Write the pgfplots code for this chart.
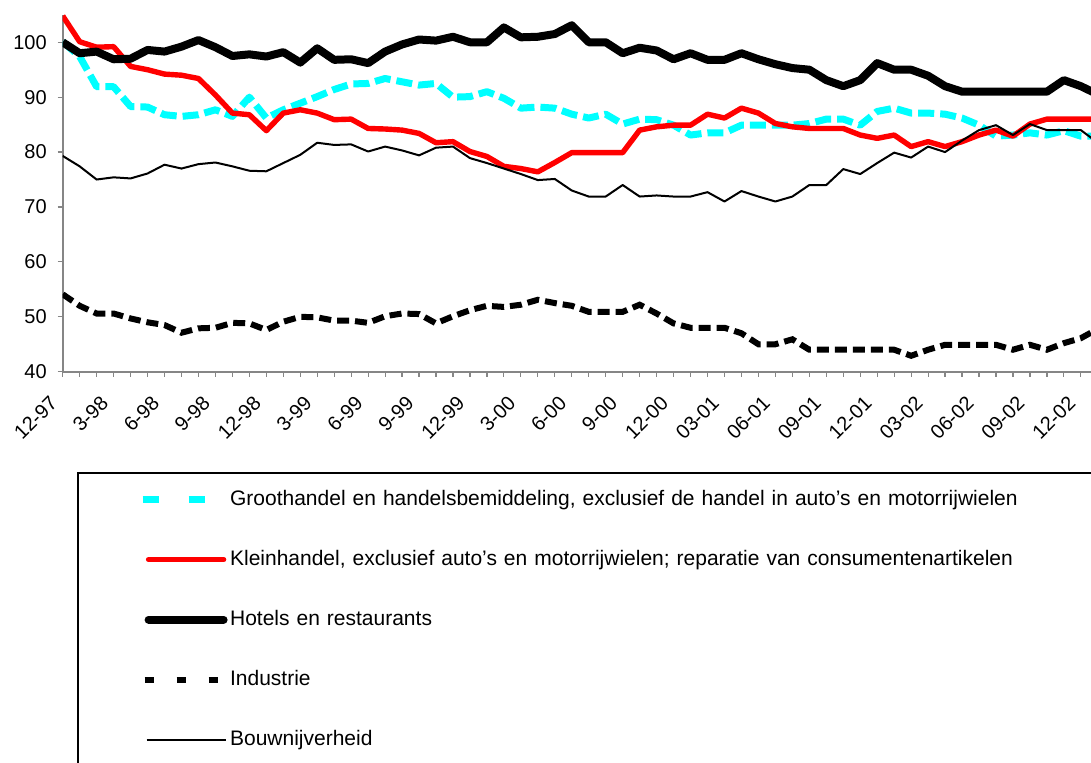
\documentclass[border=0pt]{standalone}
\usepackage{fontspec}
\setmainfont{Liberation Sans}
\usepackage{pgfplots}
\usepackage{pgfplotstable}
\pgfplotsset{compat=1.18}
\definecolor{ecyan}{RGB}{0,255,255}
\definecolor{ered}{RGB}{255,0,0}
\definecolor{axgray}{RGB}{134,134,134}

\pgfplotstableread{
i g k h n b
0 100.1 104.8 100.0 54.1 79.3
1 97.4 100.1 98.0 52.0 77.4
2 91.9 99.1 98.3 50.6 75.0
3 91.9 99.2 96.9 50.6 75.4
4 88.3 95.6 97.0 49.7 75.2
5 88.2 95.0 98.6 49.0 76.1
6 86.8 94.2 98.3 48.5 77.7
7 86.5 94.0 99.2 47.1 77.0
8 86.8 93.4 100.4 47.9 77.8
9 87.7 90.4 99.1 48.0 78.1
10 86.5 87.1 97.5 48.9 77.4
11 90.0 86.8 97.8 48.8 76.6
12 86.2 83.9 97.4 47.6 76.5
13 87.7 87.1 98.2 49.1 78.0
14 88.9 87.7 96.3 50.0 79.5
15 90.1 87.1 98.9 49.9 81.7
16 91.4 85.9 96.8 49.3 81.3
17 92.4 86.0 96.9 49.3 81.4
18 92.5 84.3 96.2 48.9 80.1
19 93.4 84.2 98.3 50.1 81.0
20 92.8 84.0 99.6 50.6 80.3
21 92.2 83.4 100.5 50.5 79.4
22 92.5 81.7 100.3 48.8 80.8
23 90.0 81.9 101.0 50.1 81.0
24 90.1 80.1 100.0 51.2 78.9
25 91.0 79.2 100.0 52.0 78.0
26 89.8 77.4 102.7 51.8 77.0
27 88.0 77.0 100.9 52.2 76.0
28 88.2 76.4 101.0 53.1 74.9
29 88.0 78.1 101.5 52.5 75.1
30 86.9 79.9 103.1 52.0 73.0
31 86.2 79.9 100.0 50.9 71.9
32 86.9 79.9 100.0 50.9 71.9
33 85.1 79.9 98.0 50.9 74.0
34 86.0 84.0 99.0 52.2 71.9
35 85.9 84.6 98.5 50.6 72.1
36 84.9 84.9 96.9 48.8 71.9
37 83.1 84.9 98.0 48.0 71.9
38 83.5 86.9 96.8 48.0 72.7
39 83.5 86.2 96.8 48.0 71.0
40 84.9 88.0 98.0 47.0 72.9
41 84.9 87.1 96.9 45.0 71.9
42 84.9 85.2 96.0 45.0 71.0
43 84.9 84.6 95.3 45.9 71.9
44 85.2 84.3 95.0 44.0 74.0
45 86.0 84.3 93.1 44.0 74.0
46 86.0 84.3 92.0 44.0 76.9
47 84.9 83.1 93.1 44.0 76.0
48 87.4 82.5 96.2 44.0 78.0
49 88.0 83.1 95.0 44.0 79.9
50 87.1 81.0 95.0 42.9 79.0
51 87.1 81.9 93.9 44.0 81.0
52 86.9 81.0 92.0 44.9 80.0
53 86.2 81.9 91.0 44.9 82.1
54 84.9 83.1 91.0 44.9 84.0
55 82.9 84.0 91.0 44.9 84.9
56 83.1 82.9 91.0 44.0 83.1
57 83.5 85.1 91.0 44.9 85.1
58 83.1 86.0 91.0 44.0 84.0
59 83.9 86.0 93.1 45.2 84.0
60 82.9 86.0 92.0 46.1 84.0
61 82.9 86.0 90.5 47.8 81.7
}\data

\begin{document}
\begin{tikzpicture}[x=1pt,y=1pt]
\useasboundingbox (0,0) rectangle (545.5,381);
\clip (0,0) rectangle (545.5,381);
\begin{axis}[
  at={(31.35pt,195.15pt)}, anchor=south west,
  scale only axis, width=514.15pt, height=178.45pt,
  xmin=0, xmax=60.6, ymin=40, ymax=105,
  axis lines*=left,
  axis line style={axgray, line width=1pt},
  xtick={0,3,...,60},
  xticklabels={12-97,3-98,6-98,9-98,12-98,3-99,6-99,9-99,12-99,3-00,6-00,9-00,12-00,03-01,06-01,09-01,12-01,03-02,06-02,09-02,12-02},
  minor xtick={0,...,60},
  ytick={40,50,...,100},
  tick align=outside,
  major tick length=2.5pt, minor tick length=2.5pt,
  tick style={axgray, line width=0.6pt},
  ticklabel style={font=\fontsize{10}{12}\selectfont},
  xticklabel shift=9pt,
  yticklabel shift=2pt,
  xticklabel style={xshift=-2pt, rotate=45, anchor=east},
  /pgf/number format/assume math mode=true,
  legend cell align=left,
  legend style={at={(rel axis cs:0.0142,-0.2819)}, anchor=north west,
    draw=black, line width=0.6pt, inner xsep=30.6pt, inner ysep=3.35pt,
    row sep=10pt, column sep=1.25pt, font=\fontsize{10.5}{12}\selectfont,
    nodes={minimum height=20pt, inner xsep=0pt, inner ysep=0pt, text width=450pt, align=left}},
  legend image code/.code={\draw[#1, line cap=round] (0pt,0pt) -- (37.5pt,0pt);},
]
\addplot[ecyan, line width=3.5pt, dash pattern=on 8pt off 3pt, line join=round,
  legend image code/.code={\draw[ecyan, line width=3.5pt, dash pattern=on 8pt off 15pt] (-3pt,0pt) -- (28pt,0pt);}]
  table[x=i,y=g]{\data};
\addlegendentry{Groothandel en handelsbemiddeling, exclusief de handel in auto's en motorrijwielen}
\addplot[ered, line width=2.7pt, line join=round] table[x=i,y=k]{\data};
\addlegendentry{Kleinhandel, exclusief auto's en motorrijwielen; reparatie van consumentenartikelen}
\addplot[black, line width=4pt, line join=round] table[x=i,y=h]{\data};
\addlegendentry{Hotels en restaurants}
\addplot[black, line width=3pt, dash pattern=on 6pt off 3pt,
  legend image code/.code={\draw[black, line width=3pt, dash pattern=on 4.5pt off 11.5pt] (-2pt,0pt) -- (34.5pt,0pt);}]
  table[x=i,y=n]{\data};
\addlegendentry{Industrie}
\addplot[black, line width=1pt, line join=round,
  legend image code/.code={\draw[black, line width=1pt] (-1pt,0pt) -- (38.5pt,0pt);}]
  table[x=i,y=b]{\data};
\addlegendentry{Bouwnijverheid}
\end{axis}
\end{tikzpicture}
\end{document}
